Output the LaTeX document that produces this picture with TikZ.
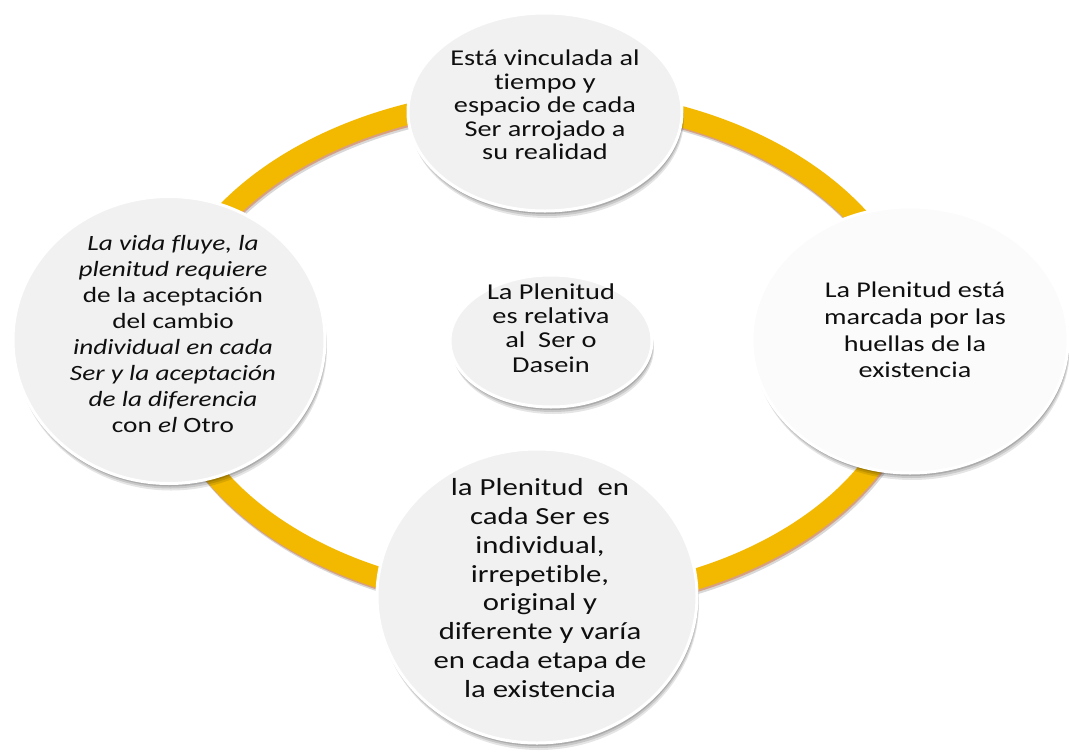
\documentclass[tikz,border=0pt]{standalone}
\usepackage{fontspec}
\setmainfont{Carlito}[FakeStretch=1.25,Ligatures=NoCommon]
\usetikzlibrary{shapes.geometric,shadows}
\definecolor{gold}{RGB}{242,185,0}
\definecolor{goldedge}{RGB}{215,160,130}
\definecolor{bubblefill}{RGB}{241,241,241}
\definecolor{txtc}{RGB}{15,15,15}
\begin{document}
\begin{tikzpicture}[x=1pt,y=-1pt,
  bubble/.style={ellipse, fill=bubblefill, draw=white, line width=3pt, inner sep=0pt,
    drop shadow={shadow xshift=2pt,shadow yshift=-7pt,opacity=0.10,fill=black},
    drop shadow={shadow xshift=1.5pt,shadow yshift=-5pt,opacity=0.12,fill=black},
    drop shadow={shadow xshift=1pt,shadow yshift=-3pt,opacity=0.15,fill=black}},
  txt/.style={align=center, text=txtc, inner sep=0pt}]
\useasboundingbox[fill=white] (0,0) rectangle (1069,753);
% ring
\draw[black!30, opacity=0.5, line width=21pt] (542,354) ellipse [x radius=374pt, y radius=252pt];
\draw[goldedge, line width=21pt] (541,352) ellipse [x radius=374pt, y radius=252pt];
\draw[gold, line width=21pt] (540,350) ellipse [x radius=374pt, y radius=252pt];
% bubbles
\node[bubble, minimum width=274pt, minimum height=198pt] (top) at (545,112) {};
\node[bubble, minimum width=312pt, minimum height=287pt] (left) at (169,340) {};
\node[bubble, minimum width=316pt, minimum height=266pt, fill=white!97!gray] (right) at (910,340) {};
\node[bubble, minimum width=320pt, minimum height=294pt] (bottom) at (537,596) {};
\node[bubble, minimum width=202pt, minimum height=132pt] (center) at (551,341) {};
% texts
\node[txt, font=\fontsize{22.6}{23.5}\selectfont] (topT) at (545,105)
  {Está vinculada al\\tiempo y\\espacio de cada\\Ser arrojado a\\su realidad};
\node[txt, font=\fontsize{21.8}{26.1}\selectfont] (leftT) at (173,334)
  {\textit{La vida fluye, la}\\\textit{plenitud requiere}\\de la aceptación\\del cambio\\\textit{individual en cada}\\\textit{Ser y la aceptación}\\\textit{de la diferencia}\\con \textit{el} Otro};
\node[txt, font=\fontsize{22.5}{26.7}\selectfont] (rightT) at (915,330)
  {La Plenitud está\\marcada por las\\huellas de la\\existencia};
\node[txt, font=\fontsize{24.6}{28.8}\selectfont] (bottomT) at (540,588)
  {la Plenitud\ \ en\\cada Ser es\\individual,\\irrepetible,\\original y\\diferente y varía\\en cada etapa de\\la existencia};
\node[txt, font=\fontsize{22.7}{24.3}\selectfont] (centerT) at (551,328)
  {La Plenitud\\es relativa\\al\ \ Ser o\\Dasein};
\end{tikzpicture}
\end{document}
